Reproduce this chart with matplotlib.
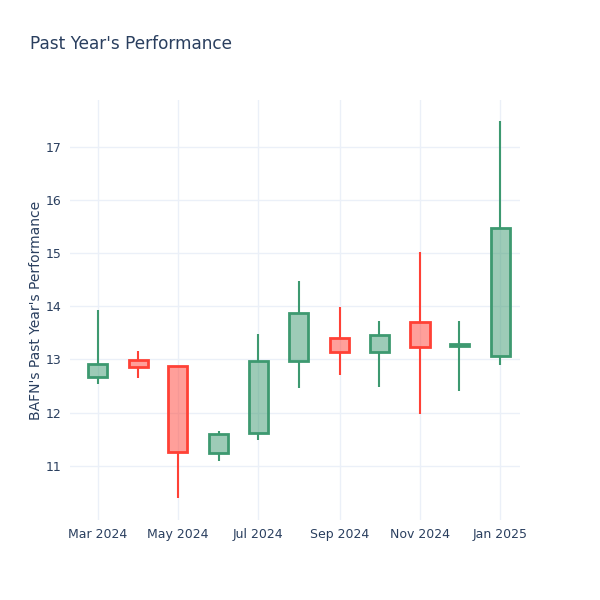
import matplotlib
matplotlib.use("Agg")
import matplotlib.pyplot as plt
import matplotlib.dates as mdates
import datetime as dt

months = ["2024-03-01", "2024-04-01", "2024-05-01", "2024-06-01", "2024-07-01", "2024-08-01",
          "2024-09-01", "2024-10-01", "2024-11-01", "2024-12-01", "2025-01-01"]
opens = [12.67, 12.99, 12.87, 11.24, 11.62, 12.98, 13.41, 13.14, 13.71, 13.25, 13.07]
highs = [13.93, 13.16, 12.87, 11.66, 13.48, 14.48, 13.99, 13.73, 15.03, 13.73, 17.49]
lows = [12.54, 12.66, 10.40, 11.09, 11.49, 12.47, 12.71, 12.49, 11.98, 12.41, 12.89]
closes = [12.92, 12.86, 11.26, 11.60, 12.97, 13.88, 13.14, 13.46, 13.24, 13.29, 15.48]

up_col = "#3D9970"
down_col = "#FF4136"
text_col = "#2a3f5f"
grid_col = "#ebf0f8"

x = [mdates.date2num(dt.datetime.strptime(m, "%Y-%m-%d")) for m in months]

fig = plt.figure(figsize=(6, 6), dpi=100)
ax = fig.add_axes([70 / 600, 80 / 600, 450 / 600, 420 / 600])

for i in range(len(x)):
    c = up_col if closes[i] >= opens[i] else down_col
    lo = min(opens[i], closes[i])
    hi = max(opens[i], closes[i])
    ax.vlines(x[i], lows[i], lo, color=c, lw=1.5, zorder=2)
    ax.vlines(x[i], hi, highs[i], color=c, lw=1.5, zorder=2)
    ax.bar(x[i], hi - lo, bottom=lo, width=14.5, color=c, alpha=0.5, zorder=3)
    ax.bar(x[i], hi - lo, bottom=lo, width=14.5, facecolor="none", edgecolor=c, lw=2, zorder=4)

ax.set_xlim(mdates.date2num(dt.datetime(2024, 2, 9)), mdates.date2num(dt.datetime(2025, 1, 16)))
ax.set_ylim(9.98, 17.88)
ax.set_yticks([11, 12, 13, 14, 15, 16, 17])
ticks = ["2024-03-01", "2024-05-01", "2024-07-01", "2024-09-01", "2024-11-01", "2025-01-01"]
ax.set_xticks([mdates.date2num(dt.datetime.strptime(t, "%Y-%m-%d")) for t in ticks])
ax.xaxis.set_major_formatter(mdates.DateFormatter("%b %Y"))

ax.grid(True, color=grid_col, lw=1)
ax.set_axisbelow(True)
for s in ax.spines.values():
    s.set_visible(False)
ax.tick_params(length=0, labelsize=9, colors=text_col, pad=6)
ax.set_ylabel("BAFN's Past Year's Performance", fontsize=10, color=text_col, labelpad=2)

fig.text(30 / 600, 1 - 44 / 600, "Past Year's Performance", fontsize=12.2, color=text_col, va="center")

fig.savefig("out.png", dpi=100)
